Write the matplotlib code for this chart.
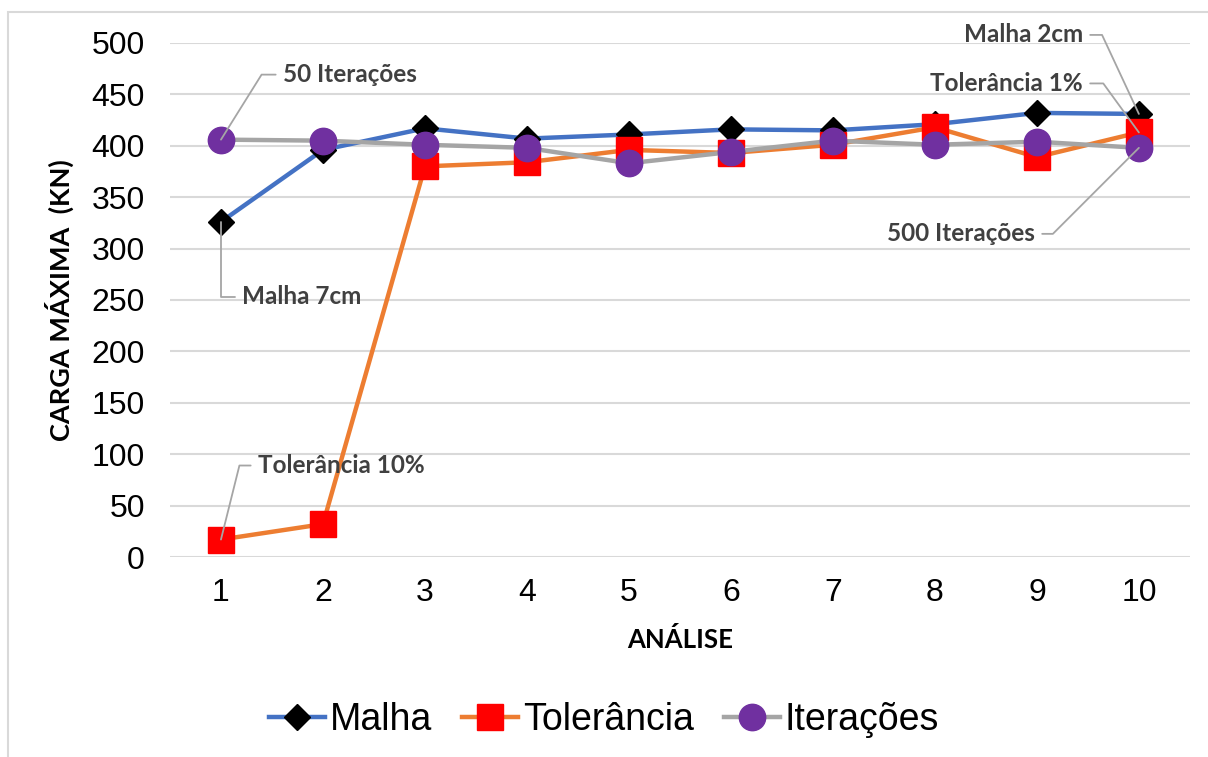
import matplotlib
matplotlib.use("Agg")
import matplotlib.pyplot as plt
from matplotlib.patches import Rectangle

analise = [1, 2, 3, 4, 5, 6, 7, 8, 9, 10]
malha = [326, 396, 417, 407, 411, 416, 415, 421, 432, 431]
tolerancia = [17, 32, 380, 384, 396, 393, 401, 418, 389, 413]
iteracoes = [406, 405, 401, 398, 383, 394, 405, 401, 404, 398]
yticks = [0, 50, 100, 150, 200, 250, 300, 350, 400, 450, 500]

txt_gray = '#404040'
lbl_font = ['Lato', 'DejaVu Sans']

fig = plt.figure(figsize=(12.08, 7.57), dpi=100)
ax = fig.add_axes([0.1407, 0.2642, 0.8443, 0.679])

# borda do grafico (estilo excel)
fig.patches.append(Rectangle((8/1208, -0.05), 1.2, 1 - 12/757 + 0.05,
                             transform=fig.transFigure, fill=False,
                             ec='#D9D9D9', lw=1.5))

ax.plot(analise, malha, color='#4472C4', lw=3.2, marker='D', ms=13.5,
        mfc='black', mec='black', label='Malha', zorder=3)
ax.plot(analise, tolerancia, color='#ED7D31', lw=3.2, marker='s', ms=19,
        mfc='#FF0000', mec='#FF0000', label='Tolerância', zorder=4)
ax.plot(analise, iteracoes, color='#A5A5A5', lw=3.2, marker='o', ms=19,
        mfc='#7030A0', mec='#7030A0', label='Iterações', zorder=5)

ax.set_xlim(0.5, 10.5)
ax.set_ylim(0, 500)
ax.set_xticks(analise)
ax.set_yticks(yticks)
ax.grid(axis='y', color='#D9D9D9', lw=1.5, zorder=0)
ax.set_axisbelow(True)
for s in ax.spines.values():
    s.set_visible(False)
ax.tick_params(length=0, labelsize=23)
ax.tick_params(axis='y', pad=18)
ax.tick_params(axis='x', pad=15)
for t in ax.get_xticklabels() + ax.get_yticklabels():
    t.set_fontfamily('Liberation Sans')

ax.set_ylabel('CARGA MÁXIMA  (KN)', fontsize=19.5, fontweight='bold',
              family=lbl_font, labelpad=13)
ax.set_xlabel('ANÁLISE', fontsize=18.5, fontweight='bold',
              family=lbl_font, labelpad=14)

# rotulos com linhas de chamada
notas = [
    ('50 Iterações', analise[0], iteracoes[0], 62, 65, 'left', 58),
    ('Malha 7cm', analise[0], malha[0], 21, -75, 'left', 90),
    ('Tolerância 10%', analise[0], tolerancia[0], 37, 74, 'left', 76),
    ('Malha 2cm', analise[9], malha[9], -56, 79, 'right', 115),
    ('Tolerância 1%', analise[9], tolerancia[9], -56, 49, 'right', 126),
    ('500 Iterações', analise[9], iteracoes[9], -104, -86, 'right', -135),
]
for texto, x, y, dx, dy, ha, ang in notas:
    ax.annotate(texto, xy=(x, y), xytext=(dx, dy), textcoords='offset pixels',
                ha=ha, va='center', fontsize=17.5, fontweight='bold',
                color=txt_gray, family=lbl_font, zorder=6,
                bbox=dict(boxstyle='square,pad=0.3', fc='none', ec='none'),
                arrowprops=dict(arrowstyle='-', color='#A5A5A5', lw=1.3,
                                shrinkA=0, shrinkB=0,
                                connectionstyle='angle,angleA=0,angleB=%d,rad=0' % ang))

leg = fig.legend(loc='center', bbox_to_anchor=(0.5, 1 - 720/757), ncol=3,
                 frameon=False, handlelength=1.5,
                 handletextpad=0.12, columnspacing=0.8,
                 prop={'family': 'Liberation Sans', 'size': 27})

fig.savefig('out.png', dpi=100)
